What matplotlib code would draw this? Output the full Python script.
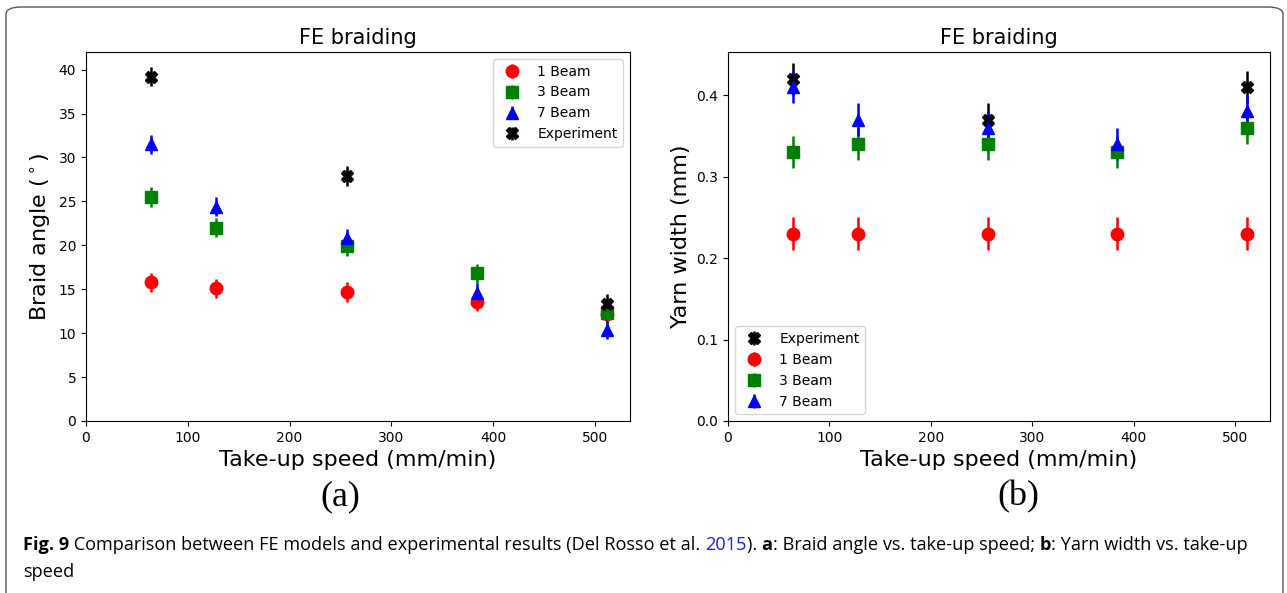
import matplotlib
matplotlib.use("Agg")
import matplotlib.pyplot as plt
from matplotlib.patches import FancyBboxPatch

# take-up speed (mm/min)
speed = [64, 128, 256, 384, 512]
speed_exp = [64, 256, 512]

# (a) braid angle (deg)
angle_1beam = [15.8, 15.1, 14.7, 13.6, 12.2]
angle_3beam = [25.5, 22.0, 19.9, 16.8, 12.3]
angle_7beam = [31.5, 24.4, 20.8, 14.6, 10.4]
angle_exp = [39.2, 27.9, 13.3]
angle_err = 1.1

# (b) yarn width (mm)
width_1beam = [0.23, 0.23, 0.23, 0.23, 0.23]
width_3beam = [0.33, 0.34, 0.34, 0.33, 0.36]
width_7beam = [0.41, 0.37, 0.36, 0.34, 0.38]
width_exp = [0.42, 0.37, 0.41]
width_err = 0.02

fig = plt.figure(figsize=(12.87, 5.93), dpi=100)

# frame around the figure panel
frame = FancyBboxPatch((6 / 1287, -0.05), 1277 / 1287, 1.05 - 7 / 593,
                       boxstyle="round,pad=0,rounding_size=0.012",
                       transform=fig.transFigure, fill=False,
                       edgecolor="#555555", linewidth=1.0)
fig.patches.append(frame)

ax1 = fig.add_axes([86 / 1287, 1 - 421 / 593, 544 / 1287, 369 / 593])
ax2 = fig.add_axes([728 / 1287, 1 - 421 / 593, 542 / 1287, 369 / 593])

ms = 9
ew = 1.8
ax1.errorbar(speed, angle_1beam, yerr=angle_err, fmt="o", color="red", ms=ms, elinewidth=ew, label="1 Beam")
ax1.errorbar(speed, angle_3beam, yerr=angle_err, fmt="s", color="green", ms=ms, elinewidth=ew, label="3 Beam")
ax1.errorbar(speed, angle_7beam, yerr=angle_err, fmt="^", color="blue", ms=ms, elinewidth=ew, label="7 Beam")
ax1.errorbar(speed_exp, angle_exp, yerr=angle_err, fmt="X", color="black", ms=ms, elinewidth=ew, label="Experiment")
ax1.set_xlim(0, 534.4)
ax1.set_ylim(0, 42)
ax1.set_title("FE braiding", fontsize=15)
ax1.set_xlabel("Take-up speed (mm/min)", fontsize=16)
ax1.set_ylabel("Braid angle ($^\\circ$)", fontsize=16)
ax1.legend(loc="upper right", fontsize=10)

ax2.errorbar(speed_exp, width_exp, yerr=width_err, fmt="X", color="black", ms=ms, elinewidth=ew, label="Experiment")
ax2.errorbar(speed, width_1beam, yerr=width_err, fmt="o", color="red", ms=ms, elinewidth=ew, label="1 Beam")
ax2.errorbar(speed, width_3beam, yerr=width_err, fmt="s", color="green", ms=ms, elinewidth=ew, label="3 Beam")
ax2.errorbar(speed, width_7beam, yerr=width_err, fmt="^", color="blue", ms=ms, elinewidth=ew, label="7 Beam")
ax2.set_xlim(0, 534.4)
ax2.set_ylim(0, 0.453)
ax2.set_title("FE braiding", fontsize=15)
ax2.set_xlabel("Take-up speed (mm/min)", fontsize=16)
ax2.set_ylabel("Yarn width (mm)", fontsize=16)
ax2.legend(loc="lower left", fontsize=10)

for ax in (ax1, ax2):
    ax.tick_params(labelsize=10)

fig.text(340 / 1287, 1 - 497 / 593, "(a)", ha="center", va="center",
         family=["Liberation Serif", "DejaVu Serif"], fontsize=26)
fig.text(1018 / 1287, 1 - 497 / 593, "(b)", ha="center", va="center",
         family=["Liberation Serif", "DejaVu Serif"], fontsize=26)

# caption, written piece by piece so bold / colour can change
cap_font = ["Open Sans", "DejaVu Sans"]
pieces = [("Fig. 9", "bold", "black"),
          (" Comparison between FE models and experimental results (Del Rosso et al. ", "normal", "black"),
          ("2015", "normal", "#1a1aff"),
          ("). ", "normal", "black"),
          ("a", "bold", "black"),
          (": Braid angle vs. take-up speed; ", "normal", "black"),
          ("b", "bold", "black"),
          (": Yarn width vs. take-up", "normal", "black")]
fig.canvas.draw()
renderer = fig.canvas.get_renderer()
x = 23 / 1287
y = 1 - 545 / 593
for txt, weight, col in pieces:
    t = fig.text(x, y, txt, family=cap_font, fontsize=13.05, weight=weight,
                 color=col, va="center", ha="left")
    bb = t.get_window_extent(renderer=renderer)
    x += bb.width / fig.bbox.width
fig.text(23 / 1287, 1 - 572 / 593, "speed", family=cap_font, fontsize=13.05,
         va="center", ha="left")

fig.savefig("out.png", dpi=100)
